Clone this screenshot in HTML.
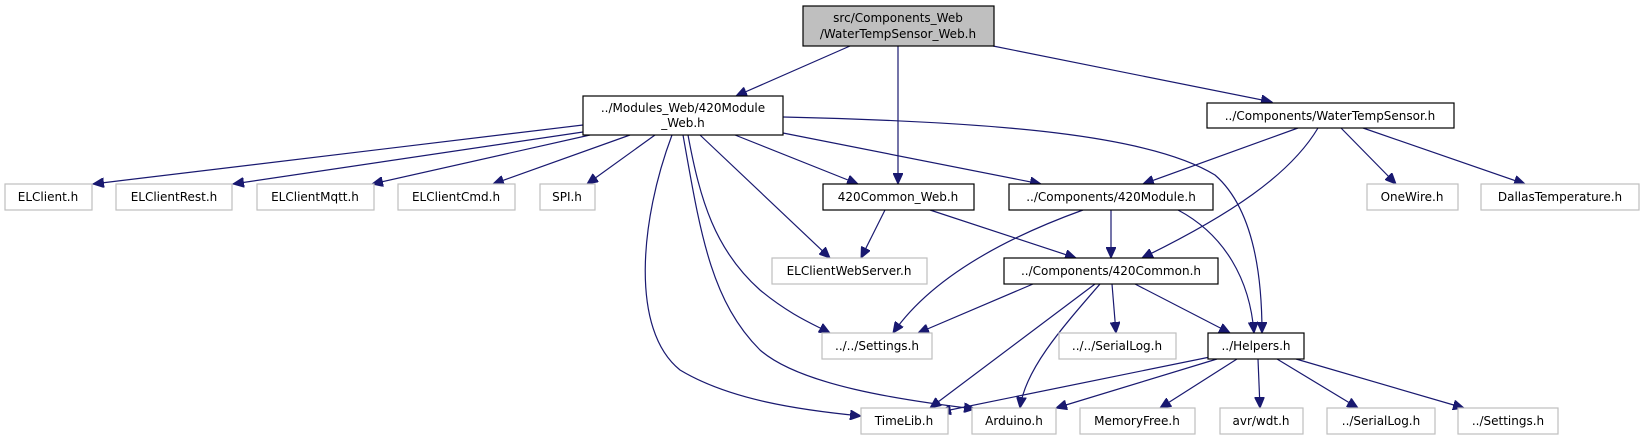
<!DOCTYPE html>
<html><head><meta charset="utf-8"><style>
html,body{margin:0;padding:0;background:#fff;width:1645px;height:440px;overflow:hidden}
svg{display:block}
text{font-family:"DejaVu Sans","Liberation Sans",sans-serif;font-size:12px;fill:#000}
.e{fill:none;stroke:#191970;stroke-width:1.2;marker-end:url(#a)}
.n{fill:#fff;stroke:#000;stroke-width:1.2}
.g{fill:#fff;stroke:#bfbfbf;stroke-width:1.2}
</style></head><body>
<svg width="1645" height="440" viewBox="0 0 1645 440" xmlns="http://www.w3.org/2000/svg">
<defs><marker id="a" markerUnits="userSpaceOnUse" markerWidth="12" markerHeight="10" refX="11" refY="5" orient="auto"><path d="M0,0 L11,5 L0,10 Z" fill="#191970" stroke="#191970"/></marker></defs>

<!-- edges -->
<path class="e" d="M850,46 L736,96"/>
<path class="e" d="M898,46 L898,184"/>
<path class="e" d="M993,46 L1272,102"/>

<path class="e" d="M583,125 L93,184"/>
<path class="e" d="M583,132 L233,184"/>
<path class="e" d="M590,135 L372,184"/>
<path class="e" d="M630,135 L493,184"/>
<path class="e" d="M655,135 L587,184"/>
<path class="e" d="M735,135 L858,184"/>
<path class="e" d="M783,133 L1041,184"/>
<path class="e" d="M783,117 C1000,122 1150,135 1215,175 C1255,210 1262,280 1262,333"/>
<path class="e" d="M700,135 L830,258"/>
<path class="e" d="M688,135 C700,200 715,250 760,290 C790,315 815,325 830,333"/>
<path class="e" d="M683,135 C700,230 710,300 760,350 C800,385 900,400 975,409"/>
<path class="e" d="M672,135 C640,220 630,330 680,370 C730,400 800,410 861,416"/>

<path class="e" d="M885,210 L861,258"/>
<path class="e" d="M930,210 L1076,258"/>

<path class="e" d="M1083,210 C1000,240 930,280 893,333"/>
<path class="e" d="M1111,210 L1111,258"/>
<path class="e" d="M1178,210 C1225,235 1250,280 1254,333"/>

<path class="e" d="M1298,128 L1143,184"/>
<path class="e" d="M1318,128 C1290,175 1230,215 1142,258"/>
<path class="e" d="M1341,128 L1396,184"/>
<path class="e" d="M1363,128 L1525,184"/>

<path class="e" d="M1033,284 L918,333"/>
<path class="e" d="M1112,284 L1116,333"/>
<path class="e" d="M1135,284 L1230,333"/>
<path class="e" d="M1095,284 L930,408"/>
<path class="e" d="M1100,284 C1060,330 1025,370 1020,408"/>

<path class="e" d="M1210,357 L940,412"/>
<path class="e" d="M1217,359 L1056,408"/>
<path class="e" d="M1237,359 L1160,408"/>
<path class="e" d="M1258,359 L1260,408"/>
<path class="e" d="M1277,359 L1358,408"/>
<path class="e" d="M1296,359 L1464,408"/>

<!-- nodes -->
<rect x="803" y="6" width="191" height="40" fill="#bfbfbf" stroke="#000" stroke-width="1.2"/>
<text x="898" y="22" text-anchor="middle">src/Components_Web</text>
<text x="898" y="38" text-anchor="middle">/WaterTempSensor_Web.h</text>

<rect class="n" x="583" y="96" width="200" height="39"/>
<text x="683" y="112" text-anchor="middle">../Modules_Web/420Module</text>
<text x="683" y="127" text-anchor="middle">_Web.h</text>

<rect class="n" x="1207" y="103" width="247" height="25"/>
<text x="1330" y="120" text-anchor="middle">../Components/WaterTempSensor.h</text>

<rect class="g" x="5" y="184" width="87" height="26"/><text x="48" y="201" text-anchor="middle">ELClient.h</text>
<rect class="g" x="116" y="184" width="116" height="26"/><text x="174" y="201" text-anchor="middle">ELClientRest.h</text>
<rect class="g" x="257" y="184" width="117" height="26"/><text x="315" y="201" text-anchor="middle">ELClientMqtt.h</text>
<rect class="g" x="398" y="184" width="117" height="26"/><text x="456" y="201" text-anchor="middle">ELClientCmd.h</text>
<rect class="g" x="540" y="184" width="55" height="26"/><text x="567" y="201" text-anchor="middle">SPI.h</text>
<rect class="n" x="823" y="184" width="151" height="26"/><text x="898" y="201" text-anchor="middle">420Common_Web.h</text>
<rect class="n" x="1009" y="184" width="204" height="26"/><text x="1111" y="201" text-anchor="middle">../Components/420Module.h</text>
<rect class="g" x="1367" y="184" width="91" height="26"/><text x="1412" y="201" text-anchor="middle">OneWire.h</text>
<rect class="g" x="1481" y="184" width="158" height="26"/><text x="1560" y="201" text-anchor="middle">DallasTemperature.h</text>

<rect class="g" x="772" y="258" width="155" height="26"/><text x="849" y="275" text-anchor="middle">ELClientWebServer.h</text>
<rect class="n" x="1004" y="258" width="214" height="26" stroke-width="1.6"/><text x="1111" y="275" text-anchor="middle">../Components/420Common.h</text>

<rect class="g" x="822" y="333" width="110" height="26"/><text x="877" y="350" text-anchor="middle">../../Settings.h</text>
<rect class="g" x="1059" y="333" width="117" height="26"/><text x="1117" y="350" text-anchor="middle">../../SerialLog.h</text>
<rect class="n" x="1208" y="333" width="96" height="26" stroke-width="1.6"/><text x="1256" y="350" text-anchor="middle">../Helpers.h</text>

<rect class="g" x="861" y="408" width="87" height="26"/><text x="904" y="425" text-anchor="middle">TimeLib.h</text>
<rect class="g" x="972" y="408" width="84" height="26"/><text x="1014" y="425" text-anchor="middle">Arduino.h</text>
<rect class="g" x="1080" y="408" width="115" height="26"/><text x="1137" y="425" text-anchor="middle">MemoryFree.h</text>
<rect class="g" x="1220" y="408" width="83" height="26"/><text x="1261" y="425" text-anchor="middle">avr/wdt.h</text>
<rect class="g" x="1327" y="408" width="108" height="26"/><text x="1381" y="425" text-anchor="middle">../SerialLog.h</text>
<rect class="g" x="1458" y="408" width="100" height="26"/><text x="1508" y="425" text-anchor="middle">../Settings.h</text>
</svg>
</body></html>
